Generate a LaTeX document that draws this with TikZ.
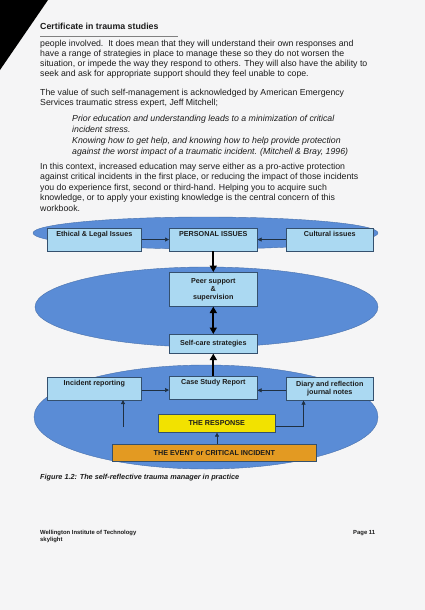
\documentclass[tikz,border=0pt]{standalone}
\usepackage{fontspec}
\setmainfont{Liberation Sans}
\usetikzlibrary{arrows.meta,calc}
\definecolor{cPage}{HTML}{F5F5F6}
\definecolor{cEll}{HTML}{5A8CD6}
\definecolor{cBox}{HTML}{ABD9F2}
\definecolor{cEdge}{HTML}{34506E}
\definecolor{cResp}{HTML}{F2E200}
\definecolor{cEvent}{HTML}{E39A22}
\definecolor{cInk}{HTML}{1C1C1C}
\newcommand\txtbody{\fontsize{8.75}{10.2}\selectfont}
\newcommand\txtbox{\bfseries\fontsize{7.2}{8}\selectfont}
\tikzset{
  para/.style={anchor=north west,inner sep=0pt,align=left,text=cInk,font=\txtbody},
  blob/.style={fill=cEll,draw=cEll!80!black,line width=0.4pt},
  issue-box/.style={draw=cEdge,fill=cBox,line width=0.6pt,anchor=north west,
    inner sep=0pt,text=cInk,font=\txtbox,align=center},
  top-text/.style={inner ysep=3pt,text height=5.5pt,text depth=11pt},
  arrow/.style={-{Triangle[length=4pt,width=4pt]},line width=0.6pt,draw=cEdge!60!black},
  arrow-big/.style={-{Triangle[length=6.5pt,width=7pt]},line width=1.8pt,draw=black},
  arrow-both/.style={{Triangle[length=6.5pt,width=7pt]}-{Triangle[length=6.5pt,width=7pt]},line width=1.8pt,draw=black},
}
\begin{document}
\begin{tikzpicture}[x=1pt,y=-1pt]
  % page and scan corner
  \fill[cPage] (0,0) rectangle (425,610);
  \useasboundingbox (0,0) rectangle (425,610);
  \fill[black] (0,0) -- (48,0) -- (0,70) -- cycle;

  % heading
  \node[anchor=base west,inner sep=0pt,font=\bfseries\fontsize{8.8}{10}\selectfont,text=cInk] (head) at (40,29.5) {Certificate in trauma studies};
  \draw[gray,line width=0.8pt] (40,36) -- (178,36);

  % running text
  \node[para] (p-one) at (40,39.5) {people involved.\ \ It does mean that they will understand their own responses and\\
    have a range of strategies in place to manage these so they do not worsen the\\
    situation, or impede the way they respond to others. They will also have the ability to\\
    seek and ask for appropriate support should they feel unable to cope.};
  \node[para] (p-two) at (40,88.5) {The value of such self-management is acknowledged by American Emergency\\
    Services traumatic stress expert, Jeff Mitchell;};
  \node[para,font=\itshape\fontsize{8.75}{11}\selectfont] (quote) at (72,114.5) {Prior education and understanding leads to a minimization of critical\\
    incident stress.\\
    Knowing how to get help, and knowing how to help provide protection\\
    against the worst impact of a traumatic incident. (Mitchell \& Bray, 1996)};
  \node[para,font=\fontsize{8.75}{10.5}\selectfont] (p-three) at (40,162.5) {In this context, increased education may serve either as a pro-active protection\\
    against critical incidents in the first place, or reducing the impact of those incidents\\
    you do experience first, second or third-hand. Helping you to acquire such\\
    knowledge, or to apply your existing knowledge is the central concern of this\\
    workbook.};

  % ellipses
  \fill[blob] (205.5,233) ellipse [x radius=172.5pt,y radius=16pt];
  \fill[blob] (206.5,307) ellipse [x radius=171.5pt,y radius=40pt];
  \fill[blob] (206,417) ellipse [x radius=172pt,y radius=52pt];

  % top row
  \node[issue-box,top-text,minimum width=94pt] (ethic) at (47,228) {Ethical \& Legal Issues};
  \node[issue-box,top-text,minimum width=88pt] (personal) at (169,228) {PERSONAL ISSUES};
  \node[issue-box,top-text,minimum width=87pt] (culture) at (286,228) {Cultural issues};

  % middle column
  \node[issue-box,minimum width=88pt,minimum height=34pt] (peer) at (169,272) {Peer support\\ \&\\ supervision};
  \node[issue-box,minimum width=88pt,minimum height=19pt] (selfcare) at (169,334) {Self-care strategies};

  % bottom row
  \node[issue-box,top-text,minimum width=94pt] (incident) at (47,377) {Incident reporting};
  \node[issue-box,top-text,minimum width=88pt] (case) at (169,376) {Case Study Report};
  \node[issue-box,minimum width=87pt,minimum height=23pt] (diary) at (286,377) {Diary and reflection\\ journal notes};
  \node[issue-box,fill=cResp,minimum width=117pt,minimum height=18pt] (response) at (158,414) {THE RESPONSE};
  \node[issue-box,fill=cEvent,minimum width=204pt,minimum height=17pt] (event) at (112,444) {THE EVENT or CRITICAL INCIDENT};

  % connectors
  \draw[arrow] (ethic.east) -- (ethic.east -| personal.west);
  \draw[arrow] (culture.west) -- (culture.west -| personal.east);
  \draw[arrow-big] (personal.south) -- (peer.north);
  \draw[arrow-both] (peer.south) -- (selfcare.north);
  \draw[arrow-big] (case.north) -- (selfcare.south);
  \draw[arrow] ($(incident.east)+(0,1.5)$) -- ($(incident.east -| case.west)+(0,1.5)$);
  \draw[arrow] ($(diary.west)+(0,1.5)$) -- ($(diary.west -| case.east)+(0,1.5)$);
  \coordinate (inc-src) at (123,427);
  \draw[arrow] (inc-src) -- (inc-src |- incident.south);
  \coordinate (diary-in) at ($(diary.south west)!0.2!(diary.south east)$);
  \draw[arrow] ($(response.east)+(0,3)$) -| (diary-in);
  \draw[arrow] (event.north -| 217,0) -- (response.south -| 217,0);

  % caption and footer
  \node[anchor=base west,inner sep=0pt,font=\bfseries\itshape\fontsize{7.3}{8}\selectfont,text=cInk] (caption) at (40,479.5) {Figure 1.2: The self-reflective trauma manager in practice};
  \node[anchor=north west,inner sep=0pt,align=left,font=\bfseries\fontsize{5.9}{7}\selectfont,text=cInk] (inst) at (40,530.5) {Wellington Institute of Technology\\ skylight};
  \node[anchor=north west,inner sep=0pt,font=\bfseries\fontsize{5.9}{7}\selectfont,text=cInk] (page) at (353,530.5) {Page 11};
\end{tikzpicture}
\end{document}
